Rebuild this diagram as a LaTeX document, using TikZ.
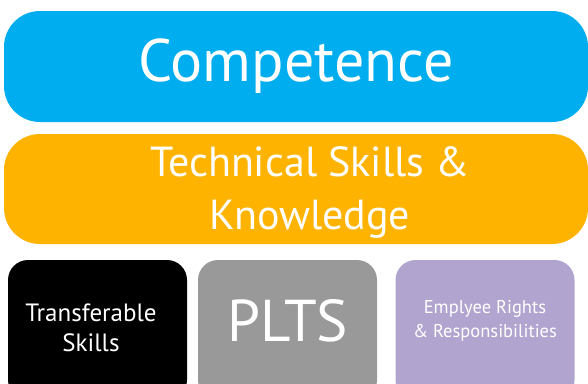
\documentclass[tikz,border=0pt]{standalone}
\usepackage{fontspec}
\setmainfont{PT Sans}
\definecolor{cblue}{HTML}{00AEEF}
\definecolor{corange}{HTML}{FDB300}
\definecolor{cgray}{HTML}{999999}
\definecolor{cpurple}{HTML}{B1A4CF}
\begin{document}
\begin{tikzpicture}[x=1pt,y=-1pt,
  bigbox/.style={rounded corners=36pt, inner sep=0pt, minimum width=584pt, text=white, align=center},
  smallbox/.style={rounded corners=20pt, inner sep=0pt, minimum width=179pt, minimum height=140pt},
  lbl/.style={text=white, align=center, inner sep=0pt}]
\useasboundingbox (0,0) rectangle (588,383);
\clip (0,0) rectangle (588,383);
\node[bigbox, fill=cblue, minimum height=111pt, font={\fontsize{60}{60}\selectfont}] (comp) at (296,66.5)
  {Competence};
\node[bigbox, fill=corange, minimum height=110pt] (tech) at (296,189) {};
\node[lbl, font={\fontsize{42}{53}\selectfont}] (techt) at (310,192) {Technical Skills \&\\Knowledge};
\node[smallbox, fill=black] (trans) at (97.5,330) {};
\node[smallbox, fill=cgray] (plts) at (287.5,330) {};
\node[smallbox, fill=cpurple] (emp) at (485,330) {};
\node[lbl, font={\fontsize{25}{30}\selectfont}] (transt) at (91,328) {Transferable\\Skills};
\node[lbl, font={\fontsize{59}{59}\selectfont}] (pltst) at (288,321) {PLTS};
\node[lbl, font={\fontsize{18.5}{24}\selectfont}] (empt) at (485,321) {Emplyee Rights\\\& Responsibilities};
\end{tikzpicture}
\end{document}
